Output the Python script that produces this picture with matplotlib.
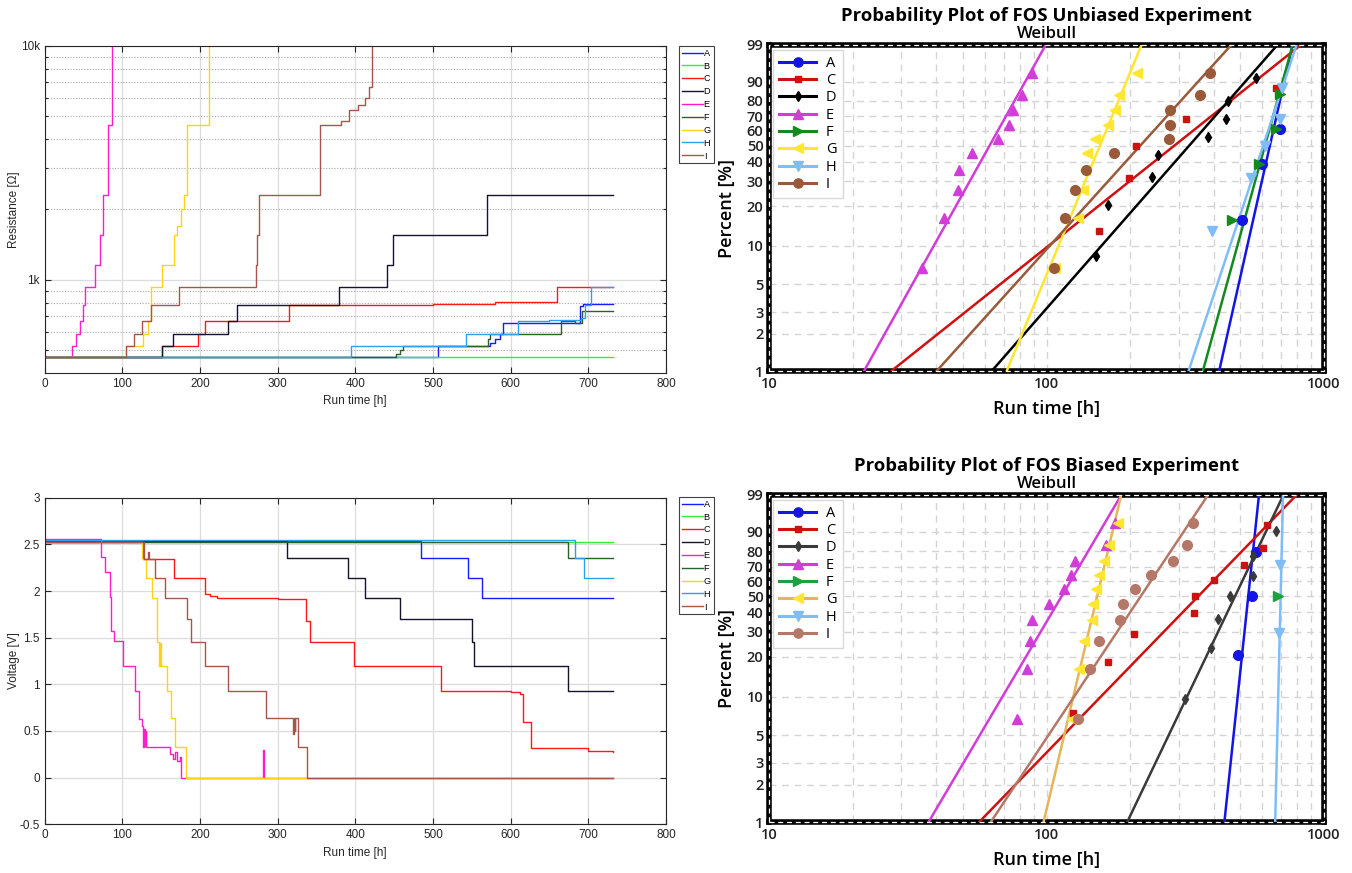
import matplotlib
matplotlib.use("Agg")
import matplotlib.pyplot as plt
import numpy as np
from matplotlib.lines import Line2D
from matplotlib.patches import Rectangle
from matplotlib.ticker import FixedLocator, NullFormatter, LogLocator

# ---------------------------------------------------------------- data
names = ["A", "B", "C", "D", "E", "F", "G", "H", "I"]

# resistance steps (run time [h], resistance [ohm]); 20000 = off scale
res_A_t = [0, 507, 573, 580, 586, 590, 689, 693, 732]
res_A = [470, 522, 540, 560, 588, 655, 770, 788, 788]
res_B_t = [0, 732]
res_B = [467, 467]
res_C_t = [0, 151, 197, 207, 315, 400, 500, 580, 660, 732]
res_C = [470, 522, 588, 670, 779, 782, 792, 808, 930, 930]
res_D_t = [0, 151, 165, 236, 248, 379, 441, 449, 569, 732]
res_D = [470, 522, 588, 670, 779, 930, 1163, 1552, 2316, 2316]
res_E_t = [0, 35, 41, 46, 49, 52, 65, 71, 75, 81, 87]
res_E = [470, 522, 588, 670, 779, 930, 1163, 1552, 2316, 4611, 20000]
res_F_t = [0, 453, 458, 462, 571, 574, 665, 683, 692, 732]
res_F = [470, 480, 500, 522, 560, 588, 670, 655, 740, 740]
res_G_t = [0, 105, 127, 133, 137, 151, 166, 171, 176, 180, 183, 212]
res_G = [470, 522, 588, 670, 930, 1163, 1552, 1700, 2000, 2316, 4611, 20000]
res_H_t = [0, 395, 543, 610, 650, 690, 696, 703, 732]
res_H = [470, 522, 588, 665, 675, 688, 785, 930, 930]
res_I_t = [0, 105, 115, 125, 137, 173, 272, 274, 276, 355, 382, 392, 404,
           412, 418, 422]
res_I = [470, 522, 588, 670, 779, 930, 1163, 1552, 2316, 4611, 4800, 5300,
         5600, 6000, 6700, 20000]

# voltage steps (run time [h], voltage [V])
volt_A_t = [0, 485, 545, 563, 732]
volt_A = [2.54, 2.35, 2.14, 1.92, 1.92]
volt_B_t = [0, 732]
volt_B = [2.52, 2.52]
volt_C_t = [0, 127, 166, 207, 213, 222, 232, 300, 336, 342, 398, 510, 600,
            612, 616, 626, 700, 732]
volt_C = [2.53, 2.34, 2.14, 1.97, 1.95, 1.93, 1.92, 1.91, 1.68, 1.45, 1.20,
          0.93, 0.92, 0.90, 0.60, 0.32, 0.29, 0.28]
volt_D_t = [0, 312, 391, 412, 457, 550, 553, 674, 732]
volt_D = [2.54, 2.35, 2.14, 1.93, 1.70, 1.45, 1.20, 0.93, 0.93]
volt_E_t = [0, 72, 78, 84, 86, 89, 101, 116, 122, 126, 127, 128, 129, 130,
            131, 161, 165, 168, 171, 174, 176, 281, 282, 732]
volt_E = [2.56, 2.36, 2.20, 1.94, 1.57, 1.46, 1.20, 0.93, 0.63, 0.55, 0.33,
          0.52, 0.34, 0.50, 0.33, 0.25, 0.20, 0.27, 0.18, 0.22, 0.0, 0.30,
          0.0, 0.0]
volt_F_t = [0, 674, 732]
volt_F = [2.53, 2.35, 2.35]
volt_G_t = [0, 125, 131, 138, 145, 147, 148, 150, 158, 163, 168, 182, 732]
volt_G = [2.53, 2.34, 2.14, 1.92, 1.45, 1.20, 1.44, 1.20, 0.93, 0.64, 0.33,
          0.0, 0.0]
volt_H_t = [0, 683, 695, 732]
volt_H = [2.545, 2.35, 2.14, 2.14]
volt_I_t = [0, 128, 133, 134, 142, 155, 183, 189, 206, 236, 285, 320, 321,
            322, 323, 326, 338, 732]
volt_I = [2.53, 2.34, 2.42, 2.34, 2.14, 1.92, 1.70, 1.45, 1.20, 0.93, 0.64,
          0.47, 0.64, 0.50, 0.64, 0.33, 0.0, 0.0]

# Weibull plots: failure times [h], median rank [%], fit line x at 1 % / 99 %
wb_names = ["A", "C", "D", "E", "F", "G", "H", "I"]
pct_10 = [6.7, 16.3, 26.0, 35.6, 45.2, 54.8, 64.4, 74.0, 83.7, 93.3]

wu_A_t = [508, 597, 697]
wu_A_p = [15.9, 38.6, 61.4]
wu_C_t = [155, 199, 210, 319, 673]
wu_C_p = [13.0, 31.5, 50.0, 68.5, 87.0]
wu_D_t = [151, 166, 240, 252, 382, 443, 451, 567]
wu_D_p = [8.3, 20.2, 32.1, 44.0, 56.0, 67.9, 79.8, 91.7]
wu_E_t = [35.6, 42.8, 48.1, 48.4, 54.0, 67.0, 73.0, 75.7, 81.6, 88.3]
wu_E_p = pct_10
wu_F_t = [467, 582, 673, 696]
wu_F_p = [15.9, 38.6, 61.4, 84.1]
wu_G_t = [107, 129.4, 135.3, 138, 139.4, 150, 166, 176.7, 182.7, 211.5]
wu_G_p = pct_10
wu_H_t = [394, 546, 612, 696, 708]
wu_H_p = [13.0, 31.5, 50.0, 68.5, 87.0]
wu_I_t = [106, 116.4, 126.7, 139, 175.4, 276, 279, 279, 357, 387]
wu_I_p = pct_10
wu_fit_lo = [419, 27.6, 63.5, 22.0, 366, 71.9, 325, 40.2]
wu_fit_hi = [770, 824, 679, 99.3, 771, 220, 796, 463]

wb_A_t = [491, 549, 568]
wb_A_p = [20.6, 50.0, 79.4]
wb_C_t = [125, 166.3, 207, 339.6, 342, 400.8, 513, 601.6, 622]
wb_C_p = [7.4, 18.1, 28.7, 39.4, 50.0, 60.6, 71.3, 81.9, 92.6]
wb_D_t = [316, 391.7, 415, 459, 553.6, 557, 673]
wb_D_p = [9.5, 23.0, 36.5, 50.0, 63.5, 77.0, 90.5]
wb_E_t = [78.4, 85.3, 87.4, 88.3, 102, 115.7, 123, 126.8, 163.4, 176.6]
wb_E_p = pct_10
wb_F_t = [684]
wb_F_p = [50.0]
wb_G_t = [123.8, 131.3, 137, 145.6, 146.6, 150.6, 154.3, 160.6, 168, 180.8]
wb_G_p = pct_10
wb_H_t = [688, 696]
wb_H_p = [29.2, 70.8]
wb_I_t = [129.4, 143, 154, 184, 189, 208, 238, 285.6, 321.5, 338]
wb_I_p = pct_10
wb_fit_lo = [437.6, 57.2, 195.4, 37.6, None, 97.6, 667, 63.0]
wb_fit_hi = [583, 796, 714, 186, None, 185.8, 712, 382]

# ---------------------------------------------------------------- styles
left_colors = ["#1a1aff", "#33ee33", "#ff1a1a", "#14142e", "#ff1ec8",
               "#2a602a", "#ffd21a", "#2aa0f0", "#a5564c"]
wu_colors = ["#1414e6", "#d01010", "#000000", "#d23cd8", "#138a1e",
             "#ffe630", "#80bdf8", "#9a5a3a"]
wb_line_colors = ["#1414e6", "#d01010", "#3a3a3a", "#d23cd8", "#1fa040",
                  "#e6b45a", "#80bdf8", "#b57868"]
wb_mark_colors = ["#1414e6", "#d01010", "#3a3a3a", "#d23cd8", "#1fa040",
                  "#ffe630", "#80bdf8", "#b57868"]
markers = ["o", "s", "d", "^", ">", "<", "v", "o"]
msizes = [7, 4.5, 5.5, 7.5, 7.5, 7.5, 7.5, 7]

LEFT_FONT = ["Liberation Sans", "DejaVu Sans"]
RIGHT_FONT = ["Open Sans", "DejaVu Sans"]


def _wb_fwd(p):
    p = np.clip(np.asarray(p, dtype=float), 1e-6, 100 - 1e-6)
    return np.log(-np.log(1 - p / 100.0))


def _wb_inv(y):
    return 100.0 * (1 - np.exp(-np.exp(np.asarray(y, dtype=float))))


def _matlab_axes(ax):
    for sp in ax.spines.values():
        sp.set_color("#262626")
        sp.set_linewidth(0.8)
    ax.tick_params(which="both", direction="in", top=True, right=True,
                   labelsize=8.5, colors="#262626", length=4, width=0.8)
    ax.tick_params(which="minor", length=2.5)
    for lab in ax.get_xticklabels() + ax.get_yticklabels():
        lab.set_family(LEFT_FONT)
    ax.set_axisbelow(True)


def _left_legend(fig, ax, top_px):
    leg = ax.legend(
        names, loc="upper left",
        bbox_to_anchor=(679 / 1352, 1 - top_px / 873),
        bbox_transform=fig.transFigure, handlelength=2.3,
        handletextpad=0.1, borderpad=0.3, labelspacing=0.42,
        borderaxespad=0, fancybox=False, framealpha=1,
        prop={"family": LEFT_FONT, "size": 6.6},
    )
    leg.get_frame().set_edgecolor("#404040")
    leg.get_frame().set_linewidth(0.8)


def _left_labels(ax, ylabel):
    ax.set_xlabel("Run time [h]", fontsize=8.5, family=LEFT_FONT,
                  color="#262626")
    ax.xaxis.set_label_coords(0.5, -0.068)
    ax.set_ylabel(ylabel, fontsize=8.5, family=LEFT_FONT, color="#262626")
    ax.yaxis.set_label_coords(-0.040, 0.5)


def draw_resistance(fig):
    ax = fig.add_axes([44.6 / 1352, 1 - 373 / 873, 621.4 / 1352, 327 / 873])
    series = [(res_A_t, res_A), (res_B_t, res_B), (res_C_t, res_C),
              (res_D_t, res_D), (res_E_t, res_E), (res_F_t, res_F),
              (res_G_t, res_G), (res_H_t, res_H), (res_I_t, res_I)]
    for (t, r), c in zip(series, left_colors):
        ax.step(t, r, where="post", color=c, lw=1.0)
    ax.set_yscale("log")
    ax.set_xlim(0, 800)
    ax.set_ylim(400, 10000)
    ax.set_xticks(np.arange(0, 801, 100))
    ax.yaxis.set_major_locator(FixedLocator([1000, 10000]))
    ax.set_yticklabels(["1k", "10k"])
    ax.yaxis.set_minor_locator(
        FixedLocator([500, 600, 700, 800, 900] +
                     [2000, 3000, 4000, 5000, 6000, 7000, 8000, 9000]))
    ax.yaxis.set_minor_formatter(NullFormatter())
    ax.grid(True, which="major", color="#dcdcdc", lw=0.9)
    ax.grid(True, which="minor", axis="y", color="#a8a8a8", lw=0.8,
            ls=(0, (1, 1.5)))
    _matlab_axes(ax)
    _left_labels(ax, "Resistance [Ω]")
    _left_legend(fig, ax, 46)


def draw_voltage(fig):
    ax = fig.add_axes([44.6 / 1352, 1 - 824.3 / 873, 621.4 / 1352,
                       326.6 / 873])
    series = [(volt_A_t, volt_A), (volt_B_t, volt_B), (volt_C_t, volt_C),
              (volt_D_t, volt_D), (volt_E_t, volt_E), (volt_F_t, volt_F),
              (volt_G_t, volt_G), (volt_H_t, volt_H), (volt_I_t, volt_I)]
    for (t, v), c in zip(series, left_colors):
        ax.step(t, v, where="post", color=c, lw=1.0)
    ax.set_xlim(0, 800)
    ax.set_ylim(-0.5, 3)
    ax.set_xticks(np.arange(0, 801, 100))
    ax.set_yticks(np.arange(-0.5, 3.01, 0.5))
    ax.set_yticklabels(["-0.5", "0", "0.5", "1", "1.5", "2", "2.5", "3"])
    ax.grid(True, which="major", color="#dcdcdc", lw=0.9)
    _matlab_axes(ax)
    _left_labels(ax, "Voltage [V]")
    _left_legend(fig, ax, 497)


def draw_weibull(fig, rect, title, times, pcts, fit_lo, fit_hi,
                 line_colors, mark_colors):
    ax = fig.add_axes(rect)
    ax.set_xscale("log")
    ax.set_yscale("function", functions=(_wb_fwd, _wb_inv))
    ax.set_xlim(10, 1000)
    ax.set_ylim(1, 99)
    handles = []
    for i, name in enumerate(wb_names):
        lc, mc = line_colors[i], mark_colors[i]
        if fit_lo[i] is not None:
            ax.plot([fit_lo[i], fit_hi[i]], [1, 99], color=lc, lw=1.8,
                    zorder=3)
        ax.plot(times[i], pcts[i], ls="none", marker=markers[i],
                ms=msizes[i], color=mc, mec=mc, zorder=4)
        handles.append(Line2D([], [], color=lc, lw=2.2, marker=markers[i],
                              ms=msizes[i] * 0.95, mfc=mc, mec=mc))
    yt = [1, 2, 3, 5, 10, 20, 30, 40, 50, 60, 70, 80, 90, 99]
    ax.yaxis.set_major_locator(FixedLocator(yt))
    ax.set_yticklabels([str(v) for v in yt])
    ax.yaxis.set_minor_locator(FixedLocator([]))
    ax.set_xticks([10, 100, 1000])
    ax.set_xticklabels(["10", "100", "1000"])
    ax.xaxis.set_minor_locator(LogLocator(base=10, subs=np.arange(2, 10)))
    ax.xaxis.set_minor_formatter(NullFormatter())
    ax.grid(True, which="both", color="#d4d4d4", lw=1.0, ls=(0, (5, 4)))
    ax.set_axisbelow(True)
    ax.tick_params(which="both", length=0, pad=4, labelsize=10.5,
                   colors="#222222")
    for lab in ax.get_xticklabels() + ax.get_yticklabels():
        lab.set_family(RIGHT_FONT)
        lab.set_fontweight("semibold")
    for sp in ax.spines.values():
        sp.set_color("black")
        sp.set_linewidth(4)
    ax.add_patch(Rectangle((0, 0), 1, 1, transform=ax.transAxes, fill=False,
                           ec="white", lw=0.9, ls=(0, (4, 3)),
                           clip_on=False, zorder=10))
    ax.text(0.5, 1.088, title, transform=ax.transAxes, ha="center",
            va="center", fontsize=13.3, fontweight="bold", family=RIGHT_FONT)
    ax.text(0.5, 1.033, "Weibull", transform=ax.transAxes, ha="center",
            va="center", fontsize=12, fontweight="semibold",
            family=RIGHT_FONT)
    ax.set_xlabel("Run time [h]", fontsize=13, fontweight="semibold",
                  family=RIGHT_FONT)
    ax.xaxis.set_label_coords(0.5, -0.09)
    ax.set_ylabel("Percent [%]", fontsize=13, fontweight="semibold",
                  family=RIGHT_FONT)
    ax.yaxis.set_label_coords(-0.06, 0.5)
    leg = ax.legend(handles, wb_names, loc="upper left",
                    bbox_to_anchor=(0.008, 0.985), handlelength=2.5,
                    handletextpad=0.7, borderpad=0.4, labelspacing=0.16,
                    borderaxespad=0, fancybox=False, framealpha=1,
                    prop={"family": RIGHT_FONT, "size": 10.5})
    leg.get_frame().set_edgecolor("#d8d8d8")
    leg.get_frame().set_linewidth(1.0)
    return ax


def main():
    fig = plt.figure(figsize=(13.52, 8.73), dpi=100)
    draw_resistance(fig)
    draw_voltage(fig)

    wu_times = [wu_A_t, wu_C_t, wu_D_t, wu_E_t, wu_F_t, wu_G_t, wu_H_t,
                wu_I_t]
    wu_pcts = [wu_A_p, wu_C_p, wu_D_p, wu_E_p, wu_F_p, wu_G_p, wu_H_p,
               wu_I_p]
    draw_weibull(fig, [769 / 1352, 1 - 371 / 873, 555 / 1352, 326 / 873],
                 "Probability Plot of FOS Unbiased Experiment",
                 wu_times, wu_pcts, wu_fit_lo, wu_fit_hi, wu_colors,
                 wu_colors)

    wb_times = [wb_A_t, wb_C_t, wb_D_t, wb_E_t, wb_F_t, wb_G_t, wb_H_t,
                wb_I_t]
    wb_pcts = [wb_A_p, wb_C_p, wb_D_p, wb_E_p, wb_F_p, wb_G_p, wb_H_p,
               wb_I_p]
    draw_weibull(fig, [769 / 1352, 1 - 822 / 873, 555 / 1352, 327 / 873],
                 "Probability Plot of FOS Biased Experiment",
                 wb_times, wb_pcts, wb_fit_lo, wb_fit_hi, wb_line_colors,
                 wb_mark_colors)

    fig.savefig("out.png", dpi=100)
    plt.close(fig)


if __name__ == "__main__":
    main()
